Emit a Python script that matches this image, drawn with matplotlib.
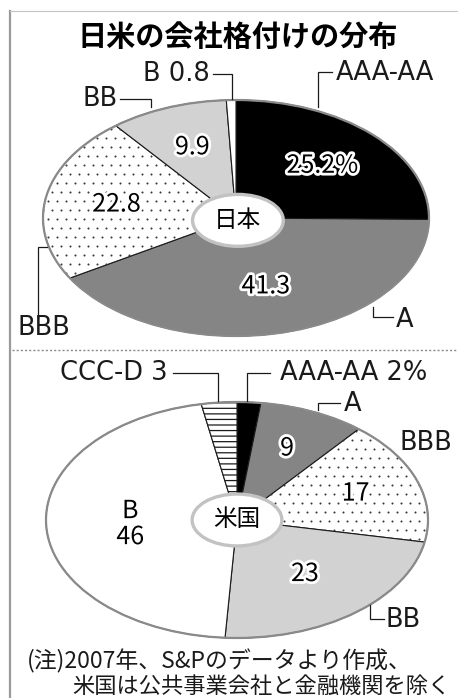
import matplotlib
matplotlib.use("Agg")
import numpy as np
import matplotlib.pyplot as plt
import matplotlib.patheffects as pe
from matplotlib.patches import Ellipse

plt.rcParams["font.family"] = ["Noto Sans CJK JP", "DejaVu Sans"]
plt.rcParams["hatch.linewidth"] = 0.9

# ── data ─────────────────────────────────────────────────────────────────────

TITLE = "日米の会社格付けの分布"

jp_grades = ["AAA-AA", "A", "BBB", "BB", "B"]
jp_share = [25.2, 41.3, 22.8, 9.9, 0.8]

us_grades = ["AAA-AA", "A", "BBB", "BB", "B", "CCC-D"]
us_share = [2, 9, 17, 23, 46, 3]

NOTE = ["(注)2007年、S&Pのデータより作成、",
        "米国は公共事業会社と金融機関を除く"]

# ── styles ───────────────────────────────────────────────────────────────────

W, H = 458, 698
INK = "#1a1a1a"

# grade -> (face, hatch); "dots" is a sparse screen drawn by hand
_FILL = {
    "AAA-AA": ("#000000", None),
    "A":      ("#858585", None),
    "BBB":    ("#ffffff", "dots"),
    "BB":     ("#d2d2d2", None),
    "B":      ("#ffffff", None),
    "CCC-D":  ("#ffffff", "---"),
}

HALO = [pe.withStroke(linewidth=4, foreground="white")]

fig = plt.figure(figsize=(W / 100, H / 100), dpi=100)

# overlay in pixel coordinates for frame, titles and leader lines
ov = fig.add_axes([0, 0, 1, 1], zorder=5)
ov.set_xlim(0, W)
ov.set_ylim(H, 0)
ov.axis("off")
ov.patch.set_alpha(0)


def pie_axes(cx, cy, rx, ry, pad=1.04):
    ax = fig.add_axes([(cx - rx * pad) / W, 1 - (cy + ry * pad) / H,
                       2 * rx * pad / W, 2 * ry * pad / H])
    ax._pad = pad
    ax._rx, ax._ry = rx, ry
    return ax


def dot_screen(ax, wedge, step=9.0):
    """Staggered grid of small dots clipped to one wedge."""
    dx, dy = step / ax._rx, step / ax._ry
    pts = []
    for i, y in enumerate(np.arange(-1, 1 + dy, dy)):
        off = dx / 2 if i % 2 else 0
        for x in np.arange(-1 + off, 1 + dx, dx):
            pts.append((x, y))
    xs, ys = np.array(pts).T
    sc = ax.scatter(xs, ys, s=2.2, color="#3a3a3a", linewidths=0, zorder=2)
    sc.set_clip_path(wedge)


def draw_pie(ax, grades, share, inner, label_r, hole, hole_text):
    wedges, _ = ax.pie(share, startangle=90, counterclock=False, radius=1,
                       colors=[_FILL[g][0] for g in grades],
                       wedgeprops=dict(edgecolor=INK, linewidth=0.8))
    pad = ax._pad
    ax.set_aspect("auto")
    ax.set_xlim(-pad, pad)
    ax.set_ylim(-pad, pad)
    ax.axis("off")

    for w, g in zip(wedges, grades):
        hatch = _FILL[g][1]
        if hatch == "dots":
            dot_screen(ax, w)
        elif hatch:
            w.set_hatch(hatch)

    # soft grey rim round the whole pie
    ax.add_patch(Ellipse((0, 0), 2, 2, fill=False, edgecolor="#8a8a8a",
                         linewidth=1.6, zorder=3))

    # values inside the slices, placed on each wedge's mid-angle
    for w, g, v in zip(wedges, grades, share):
        if g not in inner:
            continue
        mid = np.radians((w.theta1 + w.theta2) / 2)
        r = label_r.get(g, 0.62)
        ax.text(r * np.cos(mid), r * np.sin(mid), inner[g].format(v),
                ha="center", va="center", fontsize=18, color="black",
                path_effects=HALO, zorder=5, linespacing=1.0)

    # country badge in the middle
    ax.add_patch(Ellipse(hole, 0.47, 0.44, facecolor="white",
                         edgecolor="#c2c2c2", linewidth=2.4, zorder=4))
    ax.text(hole[0], hole[1], hole_text, ha="center", va="center",
            fontsize=17, zorder=5)
    return wedges


def leader(pts):
    xs, ys = zip(*pts)
    ov.plot(xs, ys, color=INK, linewidth=0.9, solid_joinstyle="miter")


def tag(x, y, s, ha="left"):
    ov.text(x, y, s, ha=ha, va="center", fontsize=18.5, color=INK,
            family="DejaVu Sans")


# ── frame ────────────────────────────────────────────────────────────────────

ov.plot([10, 10], [11, H], color="#9a9a9a", linewidth=1.6)
ov.plot([10, W], [11, 11], color="#c4c4c4", linewidth=0.8)
ov.plot([12, W], [350, 350], color="#8a8a8a", linewidth=1.0,
        linestyle=(0, (1.5, 1.5)))

ov.text(238, 37, TITLE, ha="center", va="center", fontsize=21,
        fontweight="bold", color="black")

# ── Japan ────────────────────────────────────────────────────────────────────

ax_jp = pie_axes(236, 218, 193, 118)
jp = dict(zip(jp_grades, jp_share))
draw_pie(ax_jp, jp_grades, jp_share,
         inner={"AAA-AA": "{}%", "A": "{}", "BBB": "{}", "BB": "{}"},
         label_r={"AAA-AA": 0.63, "A": 0.60, "BBB": 0.63, "BB": 0.64},
         hole=(0.01, -0.02), hole_text="日本")

tag(210, 74, f"B {jp['B']}", ha="right")
leader([(213, 74), (232, 74), (232, 99)])
tag(336, 73, "AAA-AA")
leader([(332, 72), (318, 72), (318, 107)])
tag(118, 99, "BB", ha="right")
leader([(120, 99), (151, 99), (151, 107)])
tag(17, 328, "BBB")
leader([(38, 318), (38, 247), (47, 247)])
tag(396, 320, "A")
leader([(373, 307), (373, 317), (393, 317)])

# ── United States ────────────────────────────────────────────────────────────

ax_us = pie_axes(237, 520, 191, 118)
us = dict(zip(us_grades, us_share))
draw_pie(ax_us, us_grades, us_share,
         inner={"A": "{}", "BBB": "{}", "BB": "{}", "B": "B\n{}"},
         label_r={"A": 0.66, "BBB": 0.66, "BB": 0.58, "B": 0.56},
         hole=(0.0, 0.0), hole_text="米国")

tag(168, 373, f"CCC-D {us['CCC-D']}", ha="right")
leader([(173, 373), (218, 373), (218, 401)])
tag(280, 373, f"AAA-AA {us['AAA-AA']}%")
leader([(270, 373), (247, 373), (247, 401)])
tag(344, 404, "A")
leader([(340, 403), (318, 403), (318, 410)])
tag(400, 443, "BBB")
tag(386, 620, "BB")
leader([(370, 605), (370, 619), (384, 619)])

# ── note ─────────────────────────────────────────────────────────────────────

ov.text(27, 661, NOTE[0], ha="left", va="center", fontsize=16.5, color=INK)
ov.text(72, 686, NOTE[1], ha="left", va="center", fontsize=16, color=INK)

fig.savefig("out.png", dpi=100)
